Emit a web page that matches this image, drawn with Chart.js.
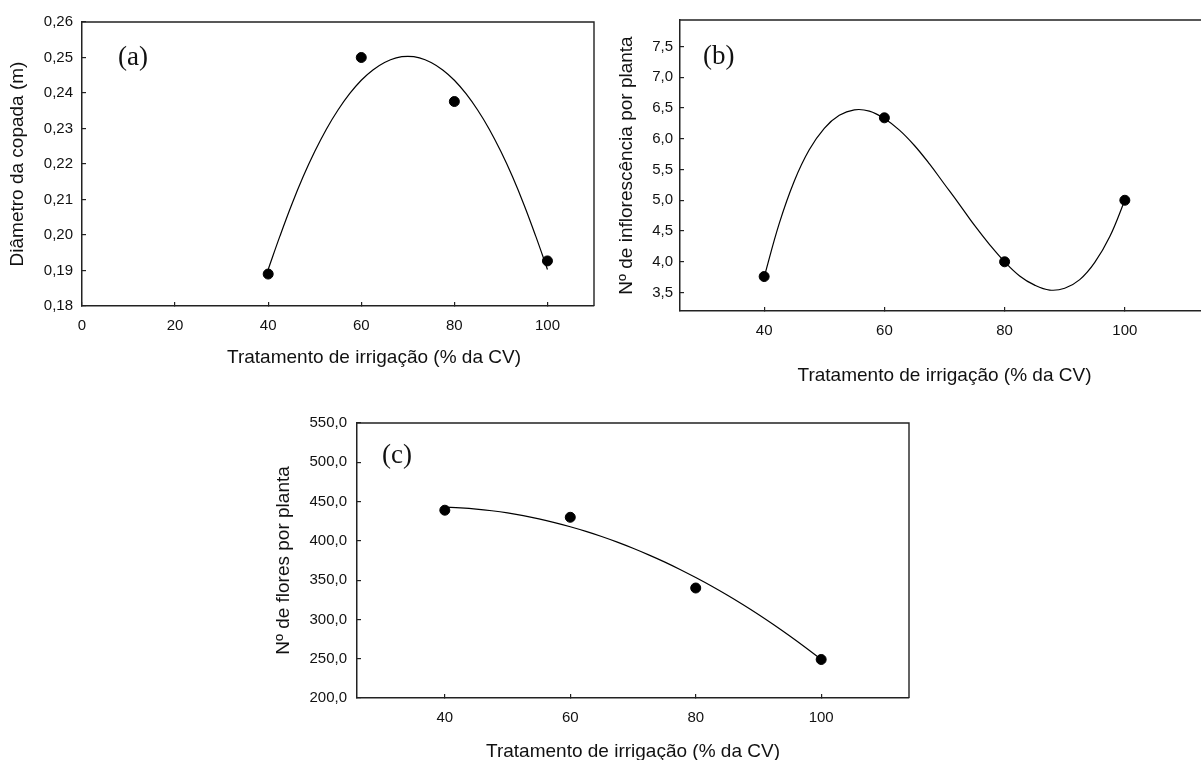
<!DOCTYPE html>
<html lang="pt-BR">
<head>
<meta charset="utf-8">
<title>Tratamento de irrigação</title>
<script src="https://cdn.jsdelivr.net/npm/chart.js@4.4.1/dist/chart.umd.min.js"></script>
<style>
    html, body {
        margin: 0;
        padding: 0;
        background: #ffffff;
        width: 1201px;
        height: 760px;
        overflow: hidden;
    }
    .panel {
        position: absolute;
    }
</style>
</head>
<body>
<div class="panel" style="left:0px;top:0px;"><canvas id="chartA" width="600" height="380"></canvas></div>
<div class="panel" style="left:600px;top:0px;"><canvas id="chartB" width="615" height="400"></canvas></div>
<div class="panel" style="left:260px;top:400px;"><canvas id="chartC" width="660" height="370"></canvas></div>

<script>
// valores
const treatments = [40, 60, 80, 100];
const diameterValues = [0.189, 0.250, 0.2376, 0.1927];
const inflorescenceValues = [3.76, 6.34, 4.0, 5.0];
const flowerValues = [439, 430, 340, 249];

// curvas ajustadas (lidas a cada 2,5%)
const curveX = [40, 42.5, 45, 47.5, 50, 52.5, 55, 57.5, 60, 62.5, 65, 67.5, 70,
                72.5, 75, 77.5, 80, 82.5, 85, 87.5, 90, 92.5, 95, 97.5, 100];
const diameterCurve = [0.1903, 0.1996, 0.2084, 0.2164, 0.2235, 0.2298, 0.2352, 0.2398, 0.2436, 0.2465, 0.2486, 0.2499, 0.2503,
                       0.2499, 0.2486, 0.2465, 0.2436, 0.2398, 0.2352, 0.2298, 0.2235, 0.2164, 0.2084, 0.1996, 0.1903];
const inflorescenceCurve = [3.75, 4.62, 5.31, 5.82, 6.17, 6.38, 6.47, 6.45, 6.33, 6.14, 5.89, 5.59, 5.26,
                            4.93, 4.59, 4.28, 4.0, 3.77, 3.62, 3.54, 3.57, 3.71, 3.99, 4.41, 5.0];
const flowerCurve = [443, 442, 440.5, 438.3, 435.5, 432, 428, 423.3, 418, 412.1, 405.6, 398.4, 390.6,
                     382.2, 373.3, 363.6, 353.3, 342.5, 331, 318.9, 306.2, 292.8, 278.8, 264.2, 249];

// rótulos dos eixos
const ticksXA = [0, 20, 40, 60, 80, 100];
const ticksXBC = [40, 60, 80, 100];
const ticksYA = [0.18, 0.19, 0.20, 0.21, 0.22, 0.23, 0.24, 0.25, 0.26];
const ticksYB = [3.5, 4.0, 4.5, 5.0, 5.5, 6.0, 6.5, 7.0, 7.5];
const ticksYC = [200, 250, 300, 350, 400, 450, 500, 550];

const xTitleText = "Tratamento de irrigação (% da CV)";
const sansFont = "'Liberation Sans', Arial, sans-serif";

Chart.defaults.font.family = sansFont;
Chart.defaults.font.size = 15;
Chart.defaults.color = "#111111";

const panelDecor = {
    id: "panelDecor",
    afterDraw(chart, args, opts) {
        const { ctx, chartArea } = chart;
        ctx.save();
        ctx.strokeStyle = "#222222";
        ctx.lineWidth = 1.4;
        ctx.beginPath();
        ctx.moveTo(chartArea.left, chartArea.top);
        ctx.lineTo(chartArea.right, chartArea.top);
        ctx.lineTo(chartArea.right, chartArea.bottom);
        ctx.stroke();

        ctx.fillStyle = "#111111";
        ctx.font = "27px 'Liberation Serif', 'Times New Roman', serif";
        ctx.textAlign = "left";
        ctx.textBaseline = "middle";
        ctx.fillText(opts.letter, chartArea.left + opts.letterDx, chartArea.top + opts.letterDy);

        if (opts.xTitleY) {
            ctx.font = "19px " + sansFont;
            ctx.textAlign = "center";
            const cx = (chartArea.left + chartArea.right) / 2 + opts.xTitleDx;
            ctx.fillText(xTitleText, cx, opts.xTitleY);
        }
        ctx.restore();
    }
};

function makePanel(id, cfg) {
    const fmt = v => Number(v).toFixed(cfg.decimals).replace(".", ",");

    return new Chart(document.getElementById(id), {
        type: "scatter",
        data: {
            datasets: [
                {
                    data: treatments.map((x, i) => ({ x: x, y: cfg.values[i] })),
                    showLine: false,
                    pointRadius: 5,
                    pointBackgroundColor: "#000000",
                    pointBorderColor: "#000000",
                    pointBorderWidth: 1
                },
                {
                    data: curveX.map((x, i) => ({ x: x, y: cfg.curve[i] })),
                    showLine: true,
                    borderColor: "#000000",
                    borderWidth: 1.2,
                    pointRadius: 0,
                    tension: 0.4,
                    fill: false
                }
            ]
        },
        options: {
            responsive: false,
            animation: false,
            events: [],
            layout: {
                padding: cfg.padding
            },
            plugins: {
                legend: { display: false },
                tooltip: { enabled: false },
                panelDecor: {
                    letter: cfg.letter,
                    letterDx: cfg.letterDx,
                    letterDy: cfg.letterDy,
                    xTitleY: cfg.xTitleY,
                    xTitleDx: cfg.xTitleDx
                }
            },
            scales: {
                x: {
                    type: "linear",
                    min: cfg.xMin,
                    max: cfg.xMax,
                    afterBuildTicks: scale => {
                        scale.ticks = cfg.xTicks.map(v => ({ value: v }));
                    },
                    afterFit: scale => {
                        scale.height = cfg.xHeight;
                    },
                    ticks: {
                        padding: 15,
                        maxRotation: 0,
                        color: "#111111",
                        font: { size: 15 }
                    },
                    grid: {
                        drawOnChartArea: false,
                        drawTicks: true,
                        tickLength: -4,
                        color: "#222222",
                        lineWidth: 1.2
                    },
                    border: {
                        color: "#222222",
                        width: 1.5
                    },
                    title: {
                        display: !cfg.xTitleY,
                        text: xTitleText,
                        color: "#111111",
                        font: { size: 19 },
                        padding: { top: 0, bottom: cfg.xTitlePad }
                    }
                },
                y: {
                    type: "linear",
                    min: cfg.yMin,
                    max: cfg.yMax,
                    afterBuildTicks: scale => {
                        scale.ticks = cfg.yTicks.map(v => ({ value: v }));
                    },
                    afterFit: scale => {
                        scale.width = cfg.yWidth;
                    },
                    ticks: {
                        padding: cfg.yTickPad,
                        color: "#111111",
                        font: { size: 15 },
                        callback: value => fmt(value)
                    },
                    grid: {
                        drawOnChartArea: false,
                        drawTicks: true,
                        tickLength: -4,
                        color: "#222222",
                        lineWidth: 1.2
                    },
                    border: {
                        color: "#222222",
                        width: 1.5
                    },
                    title: {
                        display: true,
                        text: cfg.yTitle,
                        color: "#111111",
                        font: { size: 19 },
                        padding: { top: cfg.yTitlePad, bottom: 0 }
                    }
                }
            }
        },
        plugins: [panelDecor]
    });
}

makePanel("chartA", {
    letter: "(a)",
    values: diameterValues,
    curve: diameterCurve,
    yTitle: "Diâmetro da copada (m)",
    decimals: 2,
    xMin: 0, xMax: 110, xTicks: ticksXA,
    yMin: 0.18, yMax: 0.26, yTicks: ticksYA,
    padding: { top: 20, right: 4, left: 0, bottom: 0 },
    yWidth: 82, xHeight: 74,
    yTickPad: 13, yTitlePad: 6.6,
    xTitleY: 358, xTitleDx: 36, xTitlePad: 0,
    letterDx: 36, letterDy: 36
});

makePanel("chartB", {
    letter: "(b)",
    values: inflorescenceValues,
    curve: inflorescenceCurve,
    yTitle: "Nº de inflorescência por planta",
    decimals: 1,
    xMin: 26, xMax: 114, xTicks: ticksXBC,
    yMin: 3.2, yMax: 7.93, yTicks: ticksYB,
    padding: { top: 20, right: 4, left: 0, bottom: 0 },
    yWidth: 80, xHeight: 89,
    yTickPad: 11, yTitlePad: 15.6,
    xTitleY: 0, xTitleDx: 0, xTitlePad: 12.6,
    letterDx: 23, letterDy: 37
});

makePanel("chartC", {
    letter: "(c)",
    values: flowerValues,
    curve: flowerCurve,
    yTitle: "Nº de flores por planta",
    decimals: 1,
    xMin: 26, xMax: 114, xTicks: ticksXBC,
    yMin: 200, yMax: 550, yTicks: ticksYC,
    padding: { top: 18, right: 11, left: 0, bottom: 0 },
    yWidth: 97, xHeight: 72,
    yTickPad: 14, yTitlePad: 12.6,
    xTitleY: 0, xTitleDx: 0, xTitlePad: 6.6,
    letterDx: 25, letterDy: 33
});
</script>
</body>
</html>
